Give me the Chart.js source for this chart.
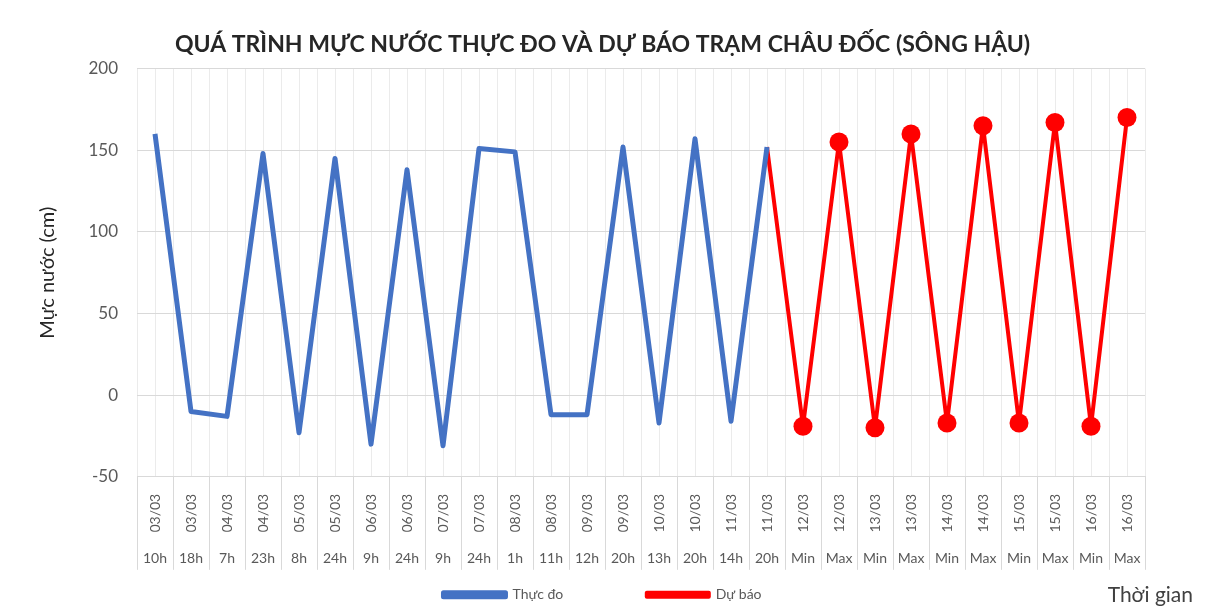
<!DOCTYPE html>
<html>
<head>
<meta charset="utf-8">
<title>Mực nước Châu Đốc</title>
<script src="https://cdn.jsdelivr.net/npm/chart.js@4.4.1/dist/chart.umd.min.js"></script>
<style>
    html, body { margin: 0; padding: 0; background: #fff; }
    #chart { display: block; }
</style>
</head>
<body>
<canvas id="chart" width="1214" height="612"></canvas>
<script>
// Dữ liệu
const dateLabels = ['03/03', '03/03', '04/03', '04/03', '05/03', '05/03', '06/03', '06/03', '07/03', '07/03',
    '08/03', '08/03', '09/03', '09/03', '10/03', '10/03', '11/03', '11/03',
    '12/03', '12/03', '13/03', '13/03', '14/03', '14/03', '15/03', '15/03', '16/03', '16/03'];
const hourLabels = ['10h', '18h', '7h', '23h', '8h', '24h', '9h', '24h', '9h', '24h',
    '1h', '11h', '12h', '20h', '13h', '20h', '14h', '20h',
    'Min', 'Max', 'Min', 'Max', 'Min', 'Max', 'Min', 'Max', 'Min', 'Max'];

// Thực đo (cm)
const measured = [160, -10, -13, 148, -23, 145, -30, 138, -31, 151,
    149, -12, -12, 152, -17, 157, -16, 152,
    null, null, null, null, null, null, null, null, null, null];

// Dự báo (cm) - nối tiếp từ điểm đo cuối
const forecast = [null, null, null, null, null, null, null, null, null, null,
    null, null, null, null, null, null, null, 152,
    -19, 155, -20, 160, -17, 165, -17, 167, -19, 170];
const forecastStart = 17;

const yTicks = [-50, 0, 50, 100, 150, 200];

const BLUE = '#4472C4';
const RED = '#FF0000';
const TEXT = '#595959';

Chart.defaults.font.family = 'Lato, "Noto Sans", sans-serif';
Chart.defaults.color = TEXT;

const ctx = document.getElementById('chart').getContext('2d');

new Chart(ctx, {
    type: 'line',
    data: {
        labels: dateLabels,
        datasets: [{
            label: 'Thực đo',
            data: measured,
            borderColor: BLUE,
            backgroundColor: BLUE,
            borderWidth: 5,
            borderJoinStyle: 'round',
            pointRadius: 0,
            tension: 0,
            xAxisID: 'x',
            yAxisID: 'y'
        }, {
            label: 'Dự báo',
            data: forecast,
            borderColor: RED,
            backgroundColor: RED,
            borderWidth: 4,
            borderJoinStyle: 'round',
            pointRadius: c => c.dataIndex === forecastStart ? 0 : 9.5,
            pointHoverRadius: 9.5,
            pointBorderWidth: 0,
            tension: 0,
            xAxisID: 'x',
            yAxisID: 'y'
        }]
    },
    options: {
        responsive: false,
        animation: false,
        layout: { padding: { left: 12, right: 21, top: 0, bottom: 0 } },
        plugins: {
            title: {
                display: true,
                text: 'QUÁ TRÌNH MỰC NƯỚC THỰC ĐO VÀ DỰ BÁO TRẠM CHÂU ĐỐC (SÔNG HẬU)',
                color: '#262626',
                font: { size: 23, weight: 'bold' },
                padding: { top: 31, bottom: 10 }
            },
            subtitle: {
                display: true,
                text: 'Thời gian',
                position: 'bottom',
                align: 'end',
                color: '#404040',
                font: { size: 21 },
                padding: { top: -29, bottom: 4 }
            },
            legend: {
                position: 'bottom',
                labels: {
                    boxWidth: 62,
                    boxHeight: 4,
                    padding: 10,
                    color: TEXT,
                    font: { size: 14 },
                    // khoảng cách giữa hai mục chú giải như bản gốc
                    generateLabels: chart => {
                        const items = Chart.defaults.plugins.legend.labels.generateLabels(chart);
                        items[0].text = items[0].text + '\u2003'.repeat(7);
                        return items;
                    }
                }
            },
            tooltip: { enabled: false }
        },
        scales: {
            x: {
                type: 'category',
                position: 'bottom',
                offset: true,
                grid: {
                    offset: true,
                    color: '#ebebeb',
                    tickColor: '#d9d9d9',
                    tickLength: 93
                },
                border: { color: '#d9d9d9' },
                ticks: {
                    autoSkip: false,
                    minRotation: 90,
                    maxRotation: 90,
                    padding: -76,
                    color: TEXT,
                    font: { size: 14 }
                },
                afterFit: s => { s.height = 55; }
            },
            xh: {
                type: 'category',
                position: 'bottom',
                labels: hourLabels,
                offset: true,
                grid: {
                    offset: false,
                    color: '#ebebeb',
                    drawTicks: false
                },
                border: { display: false },
                ticks: {
                    autoSkip: false,
                    maxRotation: 0,
                    padding: 18,
                    color: TEXT,
                    font: { size: 14 }
                },
                afterFit: s => { s.height = 46; }
            },
            y: {
                type: 'linear',
                position: 'left',
                min: yTicks[0],
                max: yTicks[yTicks.length - 1],
                afterBuildTicks: s => { s.ticks = yTicks.map(v => ({ value: v })); },
                grid: { color: '#d9d9d9', drawTicks: false },
                border: { display: false },
                ticks: {
                    padding: 19,
                    color: TEXT,
                    font: { size: 17 }
                },
                title: {
                    display: true,
                    text: 'Mực nước (cm)',
                    color: '#262626',
                    font: { size: 20 },
                    padding: { top: 24, bottom: 0 }
                },
                afterFit: s => { s.width = 125; }
            },
            yr: {
                type: 'linear',
                position: 'right',
                grid: { display: false },
                border: { display: false },
                ticks: { display: false },
                afterFit: s => { s.width = 48; }
            }
        }
    }
});
</script>
</body>
</html>
